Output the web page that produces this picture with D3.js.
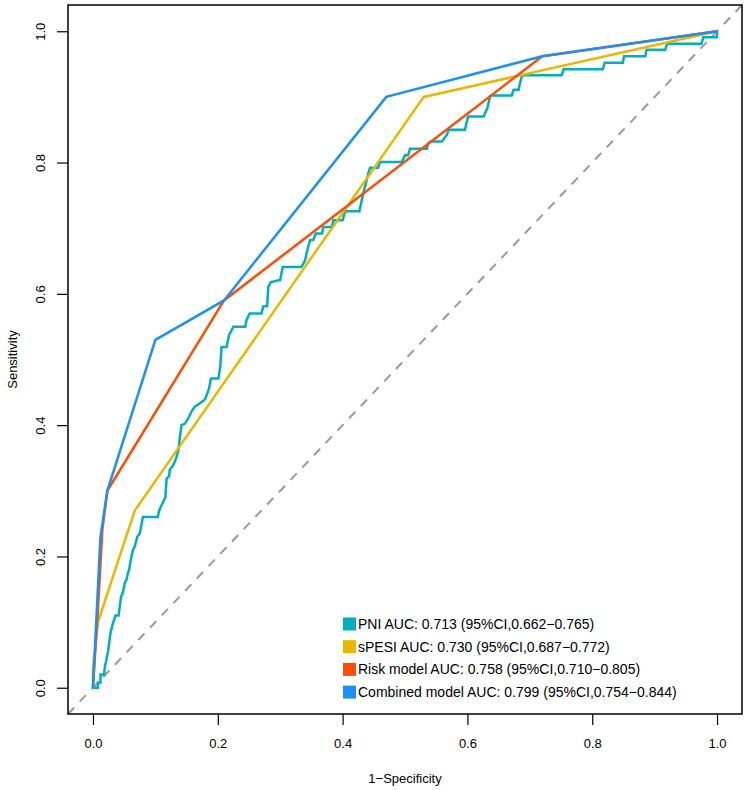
<!DOCTYPE html>
<html><head><meta charset="utf-8">
<script src="https://cdn.jsdelivr.net/npm/d3@7"></script>
<style>body{margin:0;background:#fff}svg{display:block}text{font-family:"Liberation Sans",Arial,sans-serif}</style>
</head><body><svg id="c" width="748" height="790"></svg>
<script>
const seriesNames = ["PNI AUC: 0.713 (95%CI,0.662\u22120.765)", "sPESI AUC: 0.730 (95%CI,0.687\u22120.772)", "Risk model AUC: 0.758 (95%CI,0.710\u22120.805)", "Combined model AUC: 0.799 (95%CI,0.754\u22120.844)"];
const seriesColors = ["#00AFBB", "#E7B800", "#FC4E07", "#1E8FF5"];
const xTicks = [0, 0.2, 0.4, 0.6, 0.8, 1.0];
const yTicks = [0, 0.2, 0.4, 0.6, 0.8, 1.0];
const pniFpr = [0,0.008,0.008,0.012,0.012,0.018,0.019,0.021,0.024,0.026,0.028,0.031,0.036,0.041,0.043,0.045,0.048,0.051,0.054,0.056,0.058,0.06,0.064,0.067,0.071,0.075,0.077,0.08,0.104,0.106,0.11,0.113,0.116,0.118,0.122,0.123,0.128,0.131,0.134,0.137,0.139,0.142,0.147,0.152,0.158,0.163,0.168,0.178,0.18,0.186,0.189,0.201,0.204,0.206,0.214,0.218,0.225,0.244,0.246,0.251,0.27,0.273,0.279,0.281,0.285,0.30,0.304,0.334,0.34,0.342,0.345,0.348,0.353,0.357,0.367,0.369,0.383,0.385,0.40,0.404,0.427,0.433,0.438,0.441,0.444,0.457,0.46,0.495,0.50,0.505,0.508,0.535,0.537,0.541,0.559,0.567,0.57,0.596,0.601,0.626,0.632,0.636,0.638,0.671,0.674,0.682,0.684,0.687,0.69,0.751,0.754,0.817,0.82,0.849,0.851,0.885,0.887,0.917,0.92,0.975,0.978,1,1];
const pniTpr = [0,0,0.008,0.008,0.02,0.02,0.032,0.04,0.055,0.068,0.083,0.095,0.11,0.11,0.124,0.139,0.145,0.16,0.165,0.175,0.18,0.192,0.21,0.215,0.23,0.235,0.245,0.26,0.26,0.27,0.278,0.284,0.29,0.319,0.322,0.332,0.338,0.344,0.352,0.362,0.38,0.40,0.402,0.409,0.421,0.428,0.431,0.438,0.44,0.456,0.471,0.471,0.489,0.519,0.519,0.537,0.55,0.55,0.56,0.57,0.57,0.581,0.581,0.611,0.618,0.621,0.641,0.641,0.651,0.661,0.672,0.682,0.682,0.692,0.692,0.702,0.702,0.712,0.712,0.726,0.726,0.753,0.771,0.783,0.792,0.792,0.801,0.801,0.811,0.811,0.821,0.821,0.829,0.832,0.832,0.842,0.85,0.85,0.87,0.87,0.883,0.90,0.902,0.902,0.911,0.911,0.92,0.931,0.933,0.933,0.942,0.942,0.952,0.952,0.962,0.962,0.972,0.972,0.981,0.981,0.991,0.991,1];
const spesiFpr = [0,0,0.008,0.067,0.53,1];
const spesiTpr = [0,0.03,0.10,0.27,0.90,1];
const riskFpr = [0,0.008,0.015,0.023,0.21,0.72,1];
const riskTpr = [0,0.12,0.24,0.30,0.59,0.962,1];
const combFpr = [0,0.012,0.023,0.10,0.21,0.47,0.72,1];
const combTpr = [0,0.23,0.30,0.53,0.59,0.90,0.962,1];

const svg = d3.select("#c");
const x = d3.scaleLinear().domain([-0.04, 1.04]).range([68, 742]);
const y = d3.scaleLinear().domain([-0.04, 1.04]).range([714, 5]);

// diagonal reference
svg.append("line").attr("x1", x(-0.04)).attr("y1", y(-0.04)).attr("x2", x(1.04)).attr("y2", y(1.04))
  .attr("stroke", "#9a9a9a").attr("stroke-width", 2).attr("stroke-dasharray", "9,8");

const line = d3.line().x(d => x(d[0])).y(d => y(d[1]));
const series = [
  d3.zip(pniFpr, pniTpr),
  d3.zip(spesiFpr, spesiTpr),
  d3.zip(riskFpr, riskTpr),
  d3.zip(combFpr, combTpr)
];
series.forEach((s, i) => {
  svg.append("path").datum(s).attr("d", line).attr("fill", "none")
    .attr("stroke", seriesColors[i]).attr("stroke-width", 2.5).attr("stroke-linejoin", "miter");
});

// box
svg.append("rect").attr("x", 68).attr("y", 5).attr("width", 674).attr("height", 709)
  .attr("fill", "none").attr("stroke", "#000").attr("stroke-width", 1.5);

// x axis
const xa = svg.append("g").attr("transform", "translate(0,714)")
  .call(d3.axisBottom(x).tickValues(xTicks).tickFormat(d3.format(".1f")).tickSize(11).tickPadding(14));
xa.select(".domain").remove();
xa.selectAll("line").attr("stroke", "#000").attr("stroke-width", 1.2);
xa.selectAll("text").attr("font-size", 13).attr("fill", "#000").style("font-family", "Liberation Sans, Arial, sans-serif");

const ya = svg.append("g").attr("transform", "translate(68,0)")
  .call(d3.axisLeft(y).tickValues(yTicks).tickFormat(d3.format(".1f")).tickSize(11).tickPadding(0));
ya.select(".domain").remove();
ya.selectAll("line").attr("stroke", "#000").attr("stroke-width", 1.2);
ya.selectAll("text").attr("font-size", 13).attr("fill", "#000").style("font-family", "Liberation Sans, Arial, sans-serif")
  .attr("x", null).attr("dy", null).attr("text-anchor", "middle")
  .attr("transform", "translate(-28,0) rotate(-90)").attr("dominant-baseline", "central");

svg.append("text").attr("x", x(0.5)).attr("y", 783).attr("text-anchor", "middle").attr("font-size", 13).text("1\u2212Specificity");
svg.append("text").attr("transform", `translate(17,${y(0.5)}) rotate(-90)`).attr("text-anchor", "middle")
  .attr("font-size", 13).text("Sensitivity");

// legend
const lg = svg.append("g");
seriesNames.forEach((n, i) => {
  const cy = 624 + i * 22.7;
  lg.append("rect").attr("x", 343).attr("y", cy - 6.5).attr("width", 13).attr("height", 13).attr("fill", seriesColors[i]);
  lg.append("text").attr("x", 358).attr("y", cy).attr("dy", "0.35em").attr("font-size", 14).text(n);
});
</script></body></html>
